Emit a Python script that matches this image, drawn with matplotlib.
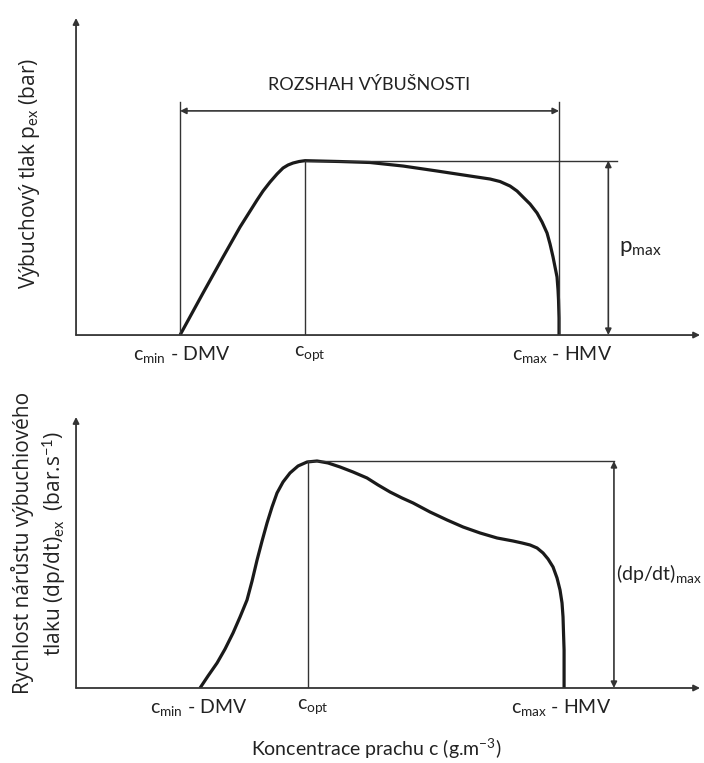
import matplotlib
matplotlib.use("Agg")
import matplotlib.pyplot as plt

# concentration axis runs 0..100, value axes run 0..100 (schematic units)
p_conc = [16.67, 20.35, 23.56, 26.28, 29.01, 29.97, 31.09, 32.21, 33.17, 33.97,
          34.78, 35.74, 36.70, 42.31, 47.12, 52.40, 57.85, 63.14, 66.35, 67.95,
          69.55, 70.67, 71.63, 72.76, 73.88, 74.68, 75.48, 75.96, 76.44, 76.76,
          77.08, 77.24, 77.32, 77.40, 77.40]
p_val = [0, 13.25, 24.61, 34.07, 42.59, 45.43, 48.26, 50.79, 52.68, 53.63,
         54.26, 54.73, 55.0, 54.73, 54.42, 53.31, 51.74, 50.16, 49.21, 48.42,
         47.00, 45.43, 43.53, 41.32, 38.49, 35.65, 32.18, 28.71, 24.61, 21.45,
         18.30, 14.20, 11.04, 5.36, 0]

r_conc = [19.87, 21.15, 22.60, 23.88, 25.16, 26.28, 27.40, 28.21, 29.01, 29.81,
          30.61, 31.41, 32.21, 33.17, 34.29, 35.58, 37.02, 38.62, 40.38, 42.31,
          44.39, 46.63, 48.40, 50.32, 52.24, 54.01, 56.73, 59.46, 62.02, 64.74,
          67.47, 70.03, 71.47, 72.76, 73.88, 74.84, 75.64, 76.44, 77.08, 77.56,
          77.88, 78.04, 78.12, 78.21, 78.21, 78.21]
r_val = [0, 4.43, 9.23, 14.39, 20.30, 26.20, 32.47, 39.48, 47.23, 54.24,
         60.89, 66.79, 71.96, 76.01, 79.34, 81.92, 83.39, 83.76, 83.03, 81.55,
         79.70, 77.49, 74.91, 72.32, 70.11, 68.27, 64.94, 61.99, 59.41, 57.20,
         55.35, 54.24, 53.51, 52.77, 51.66, 49.82, 47.60, 44.65, 40.59, 36.16,
         31.37, 26.20, 20.30, 14.02, 6.64, 0]

top_marks = {"cmin": 16.67, "copt": 36.7, "cmax": 77.4, "peak": 55.0}
bot_marks = {"cmin": 19.87, "copt": 37.2, "cmax": 78.21, "peak": 83.76}
tick_texts = [r"c$_{\mathrm{min}}$ - DMV", r"c$_{\mathrm{opt}}$", r"c$_{\mathrm{max}}$ - HMV"]

FONT = "Lato"
plt.rcParams["font.family"] = [FONT, "DejaVu Sans"]
plt.rcParams["mathtext.fontset"] = "custom"
plt.rcParams["mathtext.rm"] = FONT
plt.rcParams["mathtext.it"] = FONT
plt.rcParams["text.color"] = "#222222"

AX_COL = "#333333"
CURVE = "#1a1a1a"

fig = plt.figure(figsize=(7.04, 7.63), dpi=100)
ax1 = fig.add_axes([0.1080, 0.5609, 0.8864, 0.4155])
ax2 = fig.add_axes([0.1080, 0.0983, 0.8864, 0.3552])


def base(ax):
    ax.set_xlim(0, 100)
    ax.set_ylim(0, 100)
    ax.axis("off")
    arr = dict(arrowstyle="-|>", color=AX_COL, lw=1.3, mutation_scale=9, shrinkA=0, shrinkB=0)
    ax.annotate("", xy=(0, 100), xytext=(0, 0), arrowprops=arr)
    ax.annotate("", xy=(100, 0), xytext=(0, 0), arrowprops=arr)


def dbl_arrow(ax, x, y0, y1):
    ax.annotate("", xy=(x, y1), xytext=(x, y0),
                arrowprops=dict(arrowstyle="<|-|>", color=AX_COL, lw=1.2,
                                mutation_scale=9, shrinkA=0, shrinkB=0))


def ticks(ax, m, y, offs):
    ax.text(m["cmin"] + offs[0], y, tick_texts[0], ha="center", va="top", fontsize=14)
    ax.text(m["copt"] - 1.8, y, tick_texts[1], ha="left", va="top", fontsize=14)
    ax.text(m["cmax"] + offs[1], y, tick_texts[2], ha="center", va="top", fontsize=14)


# top panel: explosion pressure
base(ax1)
m = top_marks
ax1.plot(p_conc, p_val, color=CURVE, lw=2.3, solid_joinstyle="round", solid_capstyle="butt")
ax1.plot([m["cmin"], m["cmin"]], [0, 73.5], color=AX_COL, lw=1.0)
ax1.plot([m["cmax"], m["cmax"]], [0, 73.5], color=AX_COL, lw=1.0)
ax1.plot([m["copt"], m["copt"]], [0, m["peak"]], color=AX_COL, lw=1.0)
ax1.plot([m["copt"], 86.7], [m["peak"], m["peak"]], color=AX_COL, lw=1.0)
ax1.annotate("", xy=(m["cmax"], 70.7), xytext=(m["cmin"], 70.7),
             arrowprops=dict(arrowstyle="<|-|>", color=AX_COL, lw=1.2,
                             mutation_scale=9, shrinkA=0, shrinkB=0))
ax1.text((m["cmin"] + m["cmax"]) / 2, 78.9, "ROZSHAH VÝBUŠNOSTI", ha="center", va="center", fontsize=13)
dbl_arrow(ax1, 85.3, 0, m["peak"])
ax1.text(87.0, 27.4, r"p$_{\mathrm{max}}$", ha="left", va="center", fontsize=16)
ticks(ax1, m, -2.8, (0.3, 0.5))

# bottom panel: rate of pressure rise
base(ax2)
m = bot_marks
ax2.plot(r_conc, r_val, color=CURVE, lw=2.3, solid_joinstyle="round", solid_capstyle="butt")
ax2.plot([m["copt"], m["copt"]], [0, m["peak"]], color=AX_COL, lw=1.0)
ax2.plot([m["copt"], 86.2], [m["peak"], m["peak"]], color=AX_COL, lw=1.0)
dbl_arrow(ax2, 86.2, 0, m["peak"])
ax2.text(86.6, 42.4, r"(dp/dt)$_{\mathrm{max}}$", ha="left", va="center", fontsize=14)
ticks(ax2, m, -3.3, (-0.2, -0.5))
ax2.text(48.2, -22.5, r"Koncentrace prachu c (g.m$^{\mathrm{-3}}$)", ha="center", va="center", fontsize=14)

# y labels
ylab = dict(rotation=90, ha="center", va="center", fontsize=15,
            family=["Open Sans", "DejaVu Sans"])
fig.text(30 / 704, 1 - 173 / 763, r"Výbuchový tlak p$_{\mathrm{ex}}$ (bar)", **ylab)
fig.text(40 / 704, 1 - 543 / 763,
         "Rychlost nárůstu výbuchiového\n" + r"tlaku (dp/dt)$_{\mathrm{ex}}$  (bar.s$^{\mathrm{-1}}$)",
         multialignment="center", linespacing=1.3, **ylab)

fig.savefig("out.png", dpi=100)
